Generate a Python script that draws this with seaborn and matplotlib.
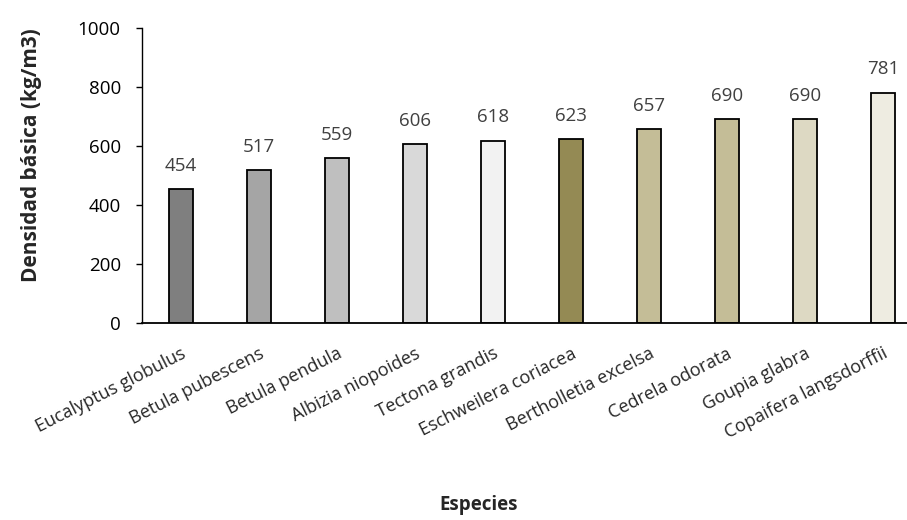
import matplotlib
matplotlib.use("Agg")
import matplotlib.pyplot as plt
import seaborn as sns
import pandas as pd

species = ["Eucalyptus globulus", "Betula pubescens", "Betula pendula", "Albizia niopoides",
           "Tectona grandis", "Eschweilera coriacea", "Bertholletia excelsa", "Cedrela odorata",
           "Goupia glabra", "Copaifera langsdorffii"]
density = [454, 517, 559, 606, 618, 623, 657, 690, 690, 781]
colors = ["#7f7f7f", "#a5a5a5", "#bfbfbf", "#d9d9d9", "#f2f2f2",
          "#948a54", "#c4bd97", "#c4bd97", "#ddd9c3", "#eeece1"]
yticks = [0, 200, 400, 600, 800, 1000]

sns.set_style("white")
plt.rcParams['font.family'] = ['Open Sans', 'DejaVu Sans']

df = pd.DataFrame({"Especie": species, "Densidad": density})

W, H = 907, 520
fig = plt.figure(figsize=(W / 100, H / 100), dpi=100)
left, right, top, bottom = 142, 907, 28, 323
ax = fig.add_axes([left / W, 1 - bottom / H, (right - left) / W, (bottom - top) / H])

sns.barplot(data=df, x="Especie", y="Densidad", hue="Especie", palette=colors,
            legend=False, width=0.31, edgecolor="black", linewidth=1.3, ax=ax, saturation=1)

for i, v in enumerate(density):
    ax.text(i, v + 62, str(v), ha="center", va="baseline", fontsize=13.5, color="#404040")

ax.set_ylim(0, 1000)
ax.set_yticks(yticks)
ax.set_xlim(-0.5, 9.31)
for s in ["top", "right"]:
    ax.spines[s].set_visible(False)
ax.spines["left"].set_color("black")
ax.spines["bottom"].set_color("black")
ax.spines["left"].set_linewidth(1.0)
ax.spines["bottom"].set_linewidth(1.3)
ax.tick_params(axis="y", left=True, length=4.3, width=1, labelsize=13.5, pad=11, colors="black")
ax.tick_params(axis="x", bottom=False, labelsize=13, pad=12)
ax.set_xticks(range(len(species)))
ax.set_xticklabels(species, rotation=27, ha="right", rotation_mode="anchor")

ax.set_ylabel("")
ax.set_xlabel("")
fig.text(32 / W, 1 - 155 / H, "Densidad básica (kg/m3)", rotation=90, ha="center", va="center",
         fontsize=15, fontweight="bold")
fig.text(479 / W, 1 - 505 / H, "Especies", ha="center", va="center",
         fontsize=13.5, fontweight="bold")

fig.savefig("out.png", dpi=100)
